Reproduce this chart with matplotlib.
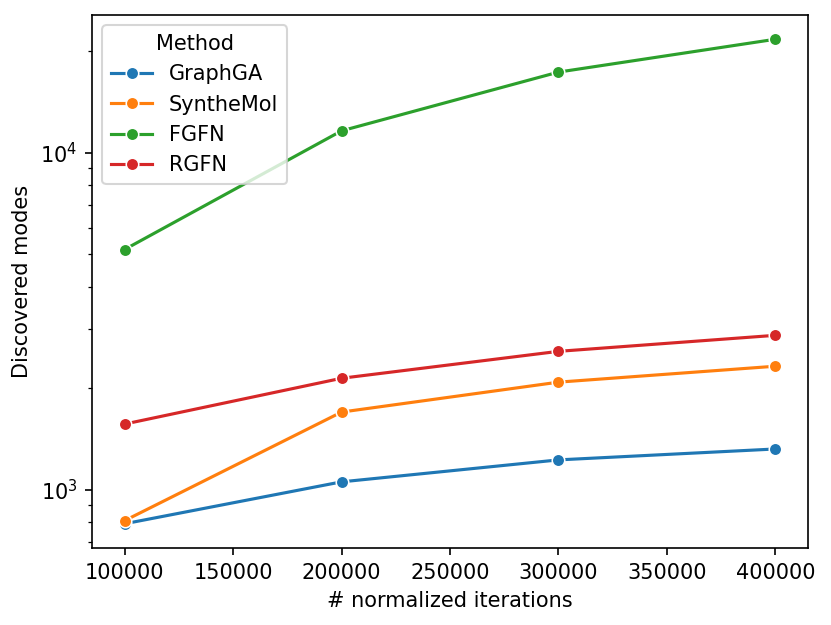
import matplotlib
matplotlib.use("Agg")
import matplotlib.pyplot as plt

iterations = [100000, 200000, 300000, 400000]
methods = ["GraphGA", "SyntheMol", "FGFN", "RGFN"]
graphga = [793, 1056, 1227, 1322]
synthemol = [810, 1701, 2087, 2327]
fgfn = [5165, 11620, 17360, 21730]
rgfn = [1567, 2143, 2576, 2874]
colors = ["#1f77b4", "#ff7f0e", "#2ca02c", "#d62728"]

fig = plt.figure(figsize=(831/150, 625/150), dpi=150)
ax = fig.add_axes([92/831, 1-548/625, (808-92)/831, (548-15)/625])
for name, vals, c in zip(methods, [graphga, synthemol, fgfn, rgfn], colors):
    ax.plot(iterations, vals, color=c, marker="o", markersize=6,
            markeredgecolor="white", markeredgewidth=0.75, linewidth=1.5, label=name)
ax.set_yscale("log")
ax.set_xlabel("# normalized iterations")
ax.set_ylabel("Discovered modes")
ax.legend(title="Method", loc="upper left")
fig.savefig("out.png", dpi=150)
